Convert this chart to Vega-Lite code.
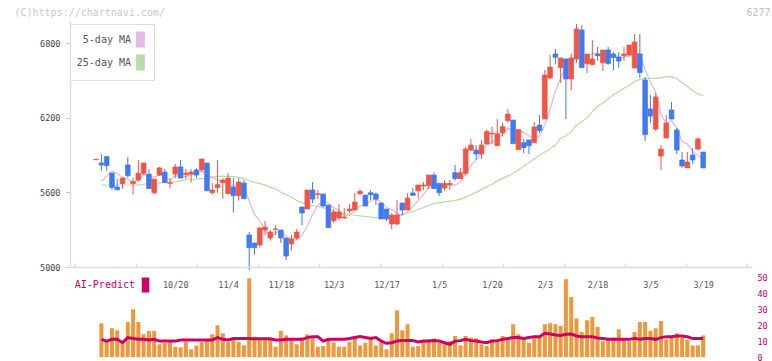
{
"$schema": "https://vega.github.io/schema/vega-lite/v6.json",
"background": "white",
"padding": {"left": 14, "top": 7, "right": 2, "bottom": 0},
"datasets": {"d": [
{"i":0,"o":5862,"h":5866,"l":5862,"c":5866,"v":null,"ai":null,"m5":null,"m25":null},
{"i":1,"o":5836,"h":5908,"l":5774,"c":5820,"v":21.2,"ai":11.1,"m5":5686,"m25":5659},
{"i":2,"o":5887,"h":5887,"l":5774,"c":5814,"v":9.4,"ai":10.0,"m5":5730,"m25":5659},
{"i":3,"o":5755,"h":5755,"l":5621,"c":5640,"v":18.1,"ai":11.1,"m5":5774,"m25":5659},
{"i":4,"o":5643,"h":5707,"l":5616,"c":5621,"v":16.8,"ai":11.1,"m5":5752,"m25":5659},
{"i":5,"o":5670,"h":5715,"l":5630,"c":5715,"v":9.0,"ai":9.0,"m5":5722,"m25":5659},
{"i":6,"o":5820,"h":5884,"l":5718,"c":5734,"v":22.0,"ai":12.2,"m5":5705,"m25":5659},
{"i":7,"o":5670,"h":5715,"l":5581,"c":5686,"v":30.0,"ai":11.6,"m5":5679,"m25":5659},
{"i":8,"o":5699,"h":5860,"l":5686,"c":5753,"v":22.0,"ai":11.1,"m5":5702,"m25":5660},
{"i":9,"o":5753,"h":5836,"l":5739,"c":5836,"v":14.3,"ai":11.1,"m5":5745,"m25":5665},
{"i":10,"o":5747,"h":5788,"l":5630,"c":5630,"v":16.4,"ai":10.7,"m5":5728,"m25":5670},
{"i":11,"o":5597,"h":5707,"l":5581,"c":5707,"v":16.4,"ai":11.1,"m5":5722,"m25":5672},
{"i":12,"o":5739,"h":5804,"l":5731,"c":5796,"v":8.0,"ai":10.0,"m5":5744,"m25":5676},
{"i":13,"o":5763,"h":5788,"l":5678,"c":5678,"v":9.0,"ai":10.0,"m5":5729,"m25":5680},
{"i":14,"o":5672,"h":5712,"l":5630,"c":5678,"v":9.4,"ai":10.0,"m5":5698,"m25":5683},
{"i":15,"o":5747,"h":5828,"l":5715,"c":5804,"v":6.5,"ai":10.0,"m5":5733,"m25":5686},
{"i":16,"o":5804,"h":5860,"l":5715,"c":5715,"v":6.1,"ai":10.7,"m5":5734,"m25":5692},
{"i":17,"o":5742,"h":5788,"l":5707,"c":5755,"v":9.4,"ai":10.7,"m5":5726,"m25":5699},
{"i":18,"o":5747,"h":5788,"l":5678,"c":5763,"v":4.8,"ai":10.7,"m5":5743,"m25":5703},
{"i":19,"o":5780,"h":5796,"l":5715,"c":5739,"v":7.3,"ai":10.7,"m5":5755,"m25":5707},
{"i":20,"o":5780,"h":5868,"l":5763,"c":5868,"v":9.4,"ai":10.7,"m5":5768,"m25":5710},
{"i":21,"o":5836,"h":5836,"l":5613,"c":5613,"v":10.5,"ai":10.7,"m5":5748,"m25":5713},
{"i":22,"o":5597,"h":5675,"l":5581,"c":5619,"v":14.3,"ai":10.7,"m5":5720,"m25":5722},
{"i":23,"o":5638,"h":5860,"l":5597,"c":5662,"v":19.9,"ai":12.2,"m5":5700,"m25":5728},
{"i":24,"o":5678,"h":5715,"l":5549,"c":5699,"v":14.9,"ai":11.1,"m5":5692,"m25":5731},
{"i":25,"o":5589,"h":5755,"l":5589,"c":5715,"v":9.4,"ai":10.7,"m5":5662,"m25":5729},
{"i":26,"o":5643,"h":5715,"l":5437,"c":5573,"v":12.2,"ai":11.6,"m5":5654,"m25":5726},
{"i":27,"o":5573,"h":5715,"l":5533,"c":5683,"v":9.4,"ai":11.6,"m5":5666,"m25":5720},
{"i":28,"o":5675,"h":5699,"l":5549,"c":5549,"v":7.3,"ai":11.6,"m5":5644,"m25":5710},
{"i":29,"o":5257,"h":5281,"l":4976,"c":5155,"v":49.5,"ai":11.6,"m5":5535,"m25":5695},
{"i":30,"o":5193,"h":5193,"l":5099,"c":5155,"v":12.8,"ai":11.4,"m5":5423,"m25":5680},
{"i":31,"o":5177,"h":5324,"l":5155,"c":5313,"v":11.6,"ai":11.4,"m5":5371,"m25":5670},
{"i":32,"o":5297,"h":5370,"l":5257,"c":5321,"v":11.1,"ai":11.4,"m5":5299,"m25":5660},
{"i":33,"o":5233,"h":5297,"l":5212,"c":5281,"v":11.6,"ai":11.4,"m5":5245,"m25":5640},
{"i":34,"o":5303,"h":5337,"l":5257,"c":5306,"v":6.5,"ai":10.7,"m5":5275,"m25":5628},
{"i":35,"o":5297,"h":5297,"l":5193,"c":5233,"v":16.4,"ai":10.7,"m5":5291,"m25":5600},
{"i":36,"o":5233,"h":5233,"l":5056,"c":5088,"v":13.6,"ai":11.1,"m5":5246,"m25":5582},
{"i":37,"o":5185,"h":5257,"l":5129,"c":5225,"v":11.1,"ai":11.1,"m5":5227,"m25":5562},
{"i":38,"o":5233,"h":5305,"l":5217,"c":5281,"v":8.0,"ai":11.1,"m5":5227,"m25":5535},
{"i":39,"o":5482,"h":5482,"l":5337,"c":5434,"v":12.2,"ai":11.1,"m5":5252,"m25":5515},
{"i":40,"o":5466,"h":5619,"l":5466,"c":5619,"v":14.3,"ai":12.2,"m5":5329,"m25":5500},
{"i":41,"o":5619,"h":5683,"l":5514,"c":5546,"v":12.2,"ai":12.8,"m5":5421,"m25":5494},
{"i":42,"o":5583,"h":5619,"l":5546,"c":5589,"v":6.5,"ai":12.8,"m5":5494,"m25":5485},
{"i":43,"o":5587,"h":5587,"l":5482,"c":5490,"v":6.9,"ai":10.0,"m5":5536,"m25":5476},
{"i":44,"o":5498,"h":5498,"l":5316,"c":5316,"v":11.1,"ai":11.1,"m5":5512,"m25":5465},
{"i":45,"o":5372,"h":5466,"l":5354,"c":5442,"v":9.0,"ai":11.1,"m5":5477,"m25":5450},
{"i":46,"o":5394,"h":5506,"l":5378,"c":5442,"v":6.5,"ai":11.1,"m5":5456,"m25":5440},
{"i":47,"o":5394,"h":5474,"l":5388,"c":5402,"v":6.5,"ai":11.1,"m5":5418,"m25":5428},
{"i":48,"o":5453,"h":5506,"l":5434,"c":5466,"v":9.4,"ai":11.6,"m5":5414,"m25":5422},
{"i":49,"o":5458,"h":5592,"l":5458,"c":5522,"v":12.8,"ai":12.2,"m5":5455,"m25":5416},
{"i":50,"o":5589,"h":5627,"l":5576,"c":5608,"v":7.3,"ai":12.8,"m5":5488,"m25":5411},
{"i":51,"o":5578,"h":5578,"l":5490,"c":5490,"v":9.0,"ai":12.2,"m5":5498,"m25":5406},
{"i":52,"o":5597,"h":5619,"l":5538,"c":5581,"v":12.8,"ai":11.6,"m5":5533,"m25":5401},
{"i":53,"o":5587,"h":5597,"l":5498,"c":5546,"v":7.3,"ai":12.2,"m5":5549,"m25":5398},
{"i":54,"o":5514,"h":5514,"l":5386,"c":5386,"v":9.0,"ai":10.0,"m5":5522,"m25":5396},
{"i":55,"o":5466,"h":5466,"l":5370,"c":5386,"v":4.8,"ai":8.6,"m5":5478,"m25":5395},
{"i":56,"o":5346,"h":5434,"l":5305,"c":5418,"v":14.9,"ai":9.0,"m5":5463,"m25":5398},
{"i":57,"o":5346,"h":5538,"l":5337,"c":5418,"v":29.4,"ai":10.0,"m5":5431,"m25":5403},
{"i":58,"o":5514,"h":5514,"l":5418,"c":5458,"v":16.8,"ai":10.3,"m5":5413,"m25":5425},
{"i":59,"o":5458,"h":5595,"l":5458,"c":5554,"v":20.6,"ai":10.3,"m5":5447,"m25":5435},
{"i":60,"o":5595,"h":5635,"l":5571,"c":5576,"v":6.5,"ai":10.3,"m5":5485,"m25":5445},
{"i":61,"o":5613,"h":5659,"l":5549,"c":5659,"v":6.9,"ai":9.4,"m5":5533,"m25":5462},
{"i":62,"o":5651,"h":5683,"l":5619,"c":5659,"v":10.0,"ai":10.0,"m5":5581,"m25":5478},
{"i":63,"o":5654,"h":5739,"l":5627,"c":5739,"v":11.1,"ai":10.0,"m5":5637,"m25":5495},
{"i":64,"o":5739,"h":5758,"l":5630,"c":5630,"v":11.6,"ai":10.3,"m5":5653,"m25":5510},
{"i":65,"o":5672,"h":5672,"l":5571,"c":5597,"v":9.0,"ai":10.0,"m5":5657,"m25":5518},
{"i":66,"o":5635,"h":5699,"l":5611,"c":5672,"v":8.0,"ai":9.0,"m5":5659,"m25":5525},
{"i":67,"o":5662,"h":5699,"l":5619,"c":5672,"v":10.0,"ai":8.0,"m5":5662,"m25":5529},
{"i":68,"o":5758,"h":5820,"l":5694,"c":5710,"v":13.2,"ai":10.0,"m5":5656,"m25":5533},
{"i":69,"o":5710,"h":5798,"l":5710,"c":5758,"v":7.3,"ai":10.3,"m5":5682,"m25":5546},
{"i":70,"o":5753,"h":5967,"l":5737,"c":5948,"v":13.2,"ai":11.1,"m5":5752,"m25":5560},
{"i":71,"o":5940,"h":6029,"l":5932,"c":5980,"v":12.2,"ai":10.3,"m5":5814,"m25":5580},
{"i":72,"o":5940,"h":5980,"l":5860,"c":5908,"v":11.8,"ai":10.0,"m5":5861,"m25":5600},
{"i":73,"o":5908,"h":6021,"l":5868,"c":5980,"v":8.0,"ai":9.4,"m5":5915,"m25":5622},
{"i":74,"o":5988,"h":6106,"l":5988,"c":6088,"v":6.9,"ai":9.0,"m5":5981,"m25":5645},
{"i":75,"o":6071,"h":6128,"l":5988,"c":6077,"v":11.1,"ai":10.0,"m5":6007,"m25":5665},
{"i":76,"o":5975,"h":6189,"l":5975,"c":6071,"v":11.1,"ai":10.3,"m5":6025,"m25":5690},
{"i":77,"o":6079,"h":6160,"l":6047,"c":6128,"v":13.2,"ai":11.1,"m5":6069,"m25":5712},
{"i":78,"o":6176,"h":6270,"l":6160,"c":6229,"v":11.1,"ai":11.6,"m5":6119,"m25":5732},
{"i":79,"o":6181,"h":6181,"l":5991,"c":5991,"v":20.6,"ai":12.2,"m5":6099,"m25":5753},
{"i":80,"o":5943,"h":6104,"l":5943,"c":6104,"v":14.3,"ai":12.2,"m5":6105,"m25":5782},
{"i":81,"o":5999,"h":6031,"l":5914,"c":5959,"v":12.2,"ai":11.6,"m5":6082,"m25":5812},
{"i":82,"o":6021,"h":6021,"l":5908,"c":5975,"v":9.0,"ai":12.2,"m5":6052,"m25":5840},
{"i":83,"o":5999,"h":6165,"l":5999,"c":6125,"v":13.2,"ai":12.8,"m5":6031,"m25":5868},
{"i":84,"o":6141,"h":6221,"l":6079,"c":6096,"v":13.2,"ai":12.8,"m5":6052,"m25":5900},
{"i":85,"o":6189,"h":6583,"l":6189,"c":6543,"v":20.6,"ai":14.9,"m5":6140,"m25":5925},
{"i":86,"o":6519,"h":6704,"l":6511,"c":6607,"v":21.2,"ai":14.5,"m5":6269,"m25":5950},
{"i":87,"o":6712,"h":6752,"l":6629,"c":6685,"v":20.6,"ai":13.8,"m5":6411,"m25":5980},
{"i":88,"o":6602,"h":6680,"l":6479,"c":6680,"v":19.5,"ai":13.6,"m5":6522,"m25":6035},
{"i":89,"o":6672,"h":6672,"l":6189,"c":6511,"v":48.9,"ai":14.3,"m5":6605,"m25":6055},
{"i":90,"o":6511,"h":6712,"l":6422,"c":6680,"v":37.7,"ai":14.5,"m5":6633,"m25":6088},
{"i":91,"o":6672,"h":6953,"l":6640,"c":6913,"v":24.3,"ai":13.2,"m5":6694,"m25":6140},
{"i":92,"o":6905,"h":6945,"l":6602,"c":6602,"v":15.8,"ai":12.8,"m5":6677,"m25":6170},
{"i":93,"o":6634,"h":6712,"l":6559,"c":6712,"v":23.1,"ai":12.8,"m5":6684,"m25":6200},
{"i":94,"o":6626,"h":6824,"l":6626,"c":6672,"v":25.2,"ai":12.8,"m5":6716,"m25":6248},
{"i":95,"o":6712,"h":6768,"l":6658,"c":6698,"v":18.9,"ai":12.0,"m5":6719,"m25":6290},
{"i":96,"o":6642,"h":6744,"l":6575,"c":6744,"v":10.0,"ai":11.6,"m5":6686,"m25":6320},
{"i":97,"o":6744,"h":6768,"l":6626,"c":6634,"v":11.1,"ai":11.1,"m5":6692,"m25":6352},
{"i":98,"o":6712,"h":6728,"l":6583,"c":6685,"v":12.2,"ai":11.1,"m5":6687,"m25":6385},
{"i":99,"o":6688,"h":6728,"l":6602,"c":6655,"v":17.4,"ai":11.1,"m5":6683,"m25":6410},
{"i":100,"o":6698,"h":6768,"l":6658,"c":6712,"v":11.1,"ai":11.1,"m5":6686,"m25":6436},
{"i":101,"o":6704,"h":6784,"l":6696,"c":6784,"v":10.0,"ai":11.1,"m5":6694,"m25":6460},
{"i":102,"o":6599,"h":6872,"l":6599,"c":6808,"v":15.8,"ai":11.8,"m5":6729,"m25":6490},
{"i":103,"o":6712,"h":6872,"l":6519,"c":6562,"v":22.0,"ai":11.1,"m5":6704,"m25":6508},
{"i":104,"o":6503,"h":6527,"l":6013,"c":6064,"v":22.0,"ai":11.6,"m5":6586,"m25":6516},
{"i":105,"o":6270,"h":6382,"l":6157,"c":6213,"v":16.4,"ai":11.6,"m5":6486,"m25":6516},
{"i":106,"o":6109,"h":6398,"l":6093,"c":6366,"v":18.1,"ai":11.1,"m5":6403,"m25":6516},
{"i":107,"o":5892,"h":5980,"l":5780,"c":5948,"v":22.6,"ai":12.2,"m5":6231,"m25":6522},
{"i":108,"o":6037,"h":6222,"l":6037,"c":6157,"v":11.1,"ai":12.8,"m5":6150,"m25":6528},
{"i":109,"o":6262,"h":6326,"l":6189,"c":6189,"v":12.2,"ai":12.8,"m5":6175,"m25":6530},
{"i":110,"o":6101,"h":6117,"l":5908,"c":5940,"v":14.9,"ai":13.2,"m5":6120,"m25":6515},
{"i":111,"o":5860,"h":5924,"l":5796,"c":5812,"v":12.2,"ai":13.2,"m5":6009,"m25":6480},
{"i":112,"o":5796,"h":5924,"l":5796,"c":5844,"v":10.7,"ai":12.8,"m5":5988,"m25":6450},
{"i":113,"o":5900,"h":5956,"l":5828,"c":5860,"v":7.3,"ai":11.6,"m5":5929,"m25":6417},
{"i":114,"o":5948,"h":6045,"l":5940,"c":6029,"v":7.3,"ai":11.6,"m5":5897,"m25":6392},
{"i":115,"o":5924,"h":5924,"l":5796,"c":5796,"v":13.6,"ai":11.6,"m5":5868,"m25":6377}
]},
"data": {"name": "d"},
"spacing": 0,
"bounds": "flush",
"resolve": {"scale": {"color": "independent"}, "legend": {"color": "independent"}},
"vconcat": [
{
 "width": 682, "height": 246,
 "encoding": {
  "x": {"field": "i", "type": "quantitative", "scale": {"domain": [-4, 123.3], "nice": false, "zero": false},
        "axis": {"orient": "top", "title": "6277", "domain": false, "ticks": false, "labels": false, "titleX": 700, "titleY": -9, "titleAlign": "right", "titleBaseline": "middle", "titleAnchor": null, "titleFontWeight": "normal", "titleColor": "#c0c0c0", "titleFont": "DejaVu Sans Mono", "titleFontSize": 10}}
 },
 "layer": [
  {"mark": {"type": "line", "strokeWidth": 1.2},
   "encoding": {
    "y": {"field": "m25", "type": "quantitative", "scale": {"domain": [5000, 6977], "nice": false, "zero": false}, "axis": {"values": [5000, 5600, 6200, 6800], "format": "d", "title": "(C)https://chartnavi.com/"}},
    "color": {"datum": "25-day MA", "type": "nominal", "scale": {"domain": ["5-day MA", "25-day MA"], "range": ["#e6b2e6", "#b6dba6"]},
      "legend": {"orient": "none", "legendX": 0, "legendY": 3, "title": null, "padding": 7, "strokeColor": "#dddddd", "fillColor": "#ffffff", "rowPadding": 2,
        "symbolType": "M-0.5,-1H0.5V1H-0.5Z", "symbolSize": 225, "symbolOffset": 55, "labelOffset": -18,
        "symbolStrokeColor": "#555555", "symbolStrokeWidth": 1.2,
        "labelFont": "DejaVu Sans Mono", "labelFontSize": 10, "labelColor": "#555555",
        "encode": {
          "labels": {"update": {"align": {"value": "right"}}},
          "symbols": {
            "enter": {"stroke": {"value": "#555555"}, "strokeWidth": {"value": 1.2}},
            "update": {"fill": {"signal": "datum.value === '5-day MA' ? '#e8b8e8' : '#b8dca8'"}, "stroke": {"value": "#555555"}, "strokeWidth": {"value": 1.2}, "strokeOpacity": {"value": 1}, "opacity": {"value": 1}}}}}}
   }},
  {"mark": {"type": "line", "strokeWidth": 1.2},
   "encoding": {
    "y": {"field": "m5", "type": "quantitative", "scale": {"domain": [5000, 6977], "nice": false, "zero": false}, "axis": {"values": [5000, 5600, 6200, 6800], "format": "d", "title": "(C)https://chartnavi.com/"}},
    "color": {"datum": "5-day MA", "type": "nominal"}
   }},
  {"mark": {"type": "rule", "strokeWidth": 1},
   "encoding": {
    "y": {"field": "l", "type": "quantitative", "scale": {"domain": [5000, 6977], "nice": false, "zero": false}, "axis": {"values": [5000, 5600, 6200, 6800], "format": "d", "title": "(C)https://chartnavi.com/"}},
    "y2": {"field": "h"},
    "color": {"condition": {"test": "datum.c >= datum.o", "value": "#f05442"}, "value": "#4079f0"}
   }},
  {"mark": {"type": "bar", "width": 4.7, "strokeWidth": 0.7},
   "encoding": {
    "y": {"field": "o", "type": "quantitative", "scale": {"domain": [5000, 6977], "nice": false, "zero": false}, "axis": {"values": [5000, 5600, 6200, 6800], "format": "d", "title": "(C)https://chartnavi.com/"}},
    "y2": {"field": "c"},
    "color": {"condition": {"test": "datum.c >= datum.o", "value": "#f05442"}, "value": "#4079f0"},
    "stroke": {"condition": {"test": "datum.c >= datum.o", "value": "#f05442"}, "value": "#4079f0"}
   }}
 ]
},
{
 "width": 682, "height": 90,
 "layer": [
  {"mark": {"type": "bar", "width": 4, "color": "#f0963c"},
   "encoding": {
    "x": {"field": "i", "type": "quantitative", "scale": {"domain": [-4, 123.3], "nice": false, "zero": false},
          "axis": {"orient": "top", "title": null, "labels": false, "values": [-4, 7.573, 19.145, 30.718, 42.291, 53.864, 65.436, 77.009, 88.582, 100.155, 111.727, 123.3], "tickSize": 4, "tickColor": "#dddddd", "tickWidth": 1.5, "domainColor": "#dddddd", "domainWidth": 1.5}},
    "y": {"field": "v", "type": "quantitative", "scale": {"domain": [0, 56.6], "nice": false}, "axis": {"orient": "right", "title": null, "values": [0, 10, 20, 30, 40, 50], "domain": false, "ticks": false, "labelPadding": 5, "labelColor": "#cc0066", "labelFont": "DejaVu Sans Mono", "labelFontSize": 8.5}}
   }},
  {"mark": {"type": "line", "strokeWidth": 3},
   "encoding": {
    "x": {"field": "i", "type": "quantitative", "scale": {"domain": [-4, 123.3], "nice": false, "zero": false},
          "axis": {"orient": "bottom", "offset": -90, "title": null, "domain": false, "ticks": false, "labelPadding": 13, "values": [15, 25, 35, 45, 55, 65, 75, 85, 95, 105, 115],
                   "labelExpr": "['10/20','11/4','11/18','12/3','12/17','1/5','1/20','2/3','2/18','3/5','3/19'][round((datum.value-15)/10)]",
                   "labelColor": "#555555", "labelFont": "DejaVu Sans Mono", "labelFontSize": 8.5}},
    "y": {"field": "ai", "type": "quantitative", "scale": {"domain": [0, 56.6], "nice": false}, "axis": {"orient": "right", "title": null, "values": [0, 10, 20, 30, 40, 50], "domain": false, "ticks": false, "labelPadding": 5, "labelColor": "#cc0066", "labelFont": "DejaVu Sans Mono", "labelFontSize": 8.5}},
    "stroke": {"datum": "AI-Predict", "type": "nominal", "scale": {"range": ["#cc0066"]},
      "legend": {"orient": "none", "legendX": 0, "legendY": 256.5, "title": null, "padding": 0,
        "symbolType": "M-0.5,-1H0.5V1H-0.5Z", "symbolSize": 225, "symbolOffset": 68, "labelOffset": -18,
        "labelFont": "DejaVu Sans Mono", "labelFontSize": 10, "labelColor": "#cc0066",
        "encode": {
          "labels": {"update": {"align": {"value": "right"}}},
          "symbols": {"update": {"fill": {"value": "#cc0066"}, "stroke": {"value": "#cc0066"}, "strokeWidth": {"value": 0}, "opacity": {"value": 1}}}}}}
   }}
 ],
 "resolve": {"axis": {"x": "independent"}}
}
],
"config": {
 "view": {"stroke": null},
 "axis": {"grid": false},
 "axisLeft": {"domainColor": "#dddddd", "domainWidth": 1.5, "tickColor": "#cccccc", "tickSize": 5, "labelFont": "DejaVu Sans Mono", "labelFontSize": 8.5, "labelColor": "#444444", "labelPadding": 5,
   "titleAngle": 0, "titleAlign": "left", "titleBaseline": "middle", "titleX": -56, "titleY": -9, "titleFont": "DejaVu Sans Mono", "titleFontSize": 10, "titleFontWeight": "normal", "titleColor": "#c8c8c8"}
}
}
